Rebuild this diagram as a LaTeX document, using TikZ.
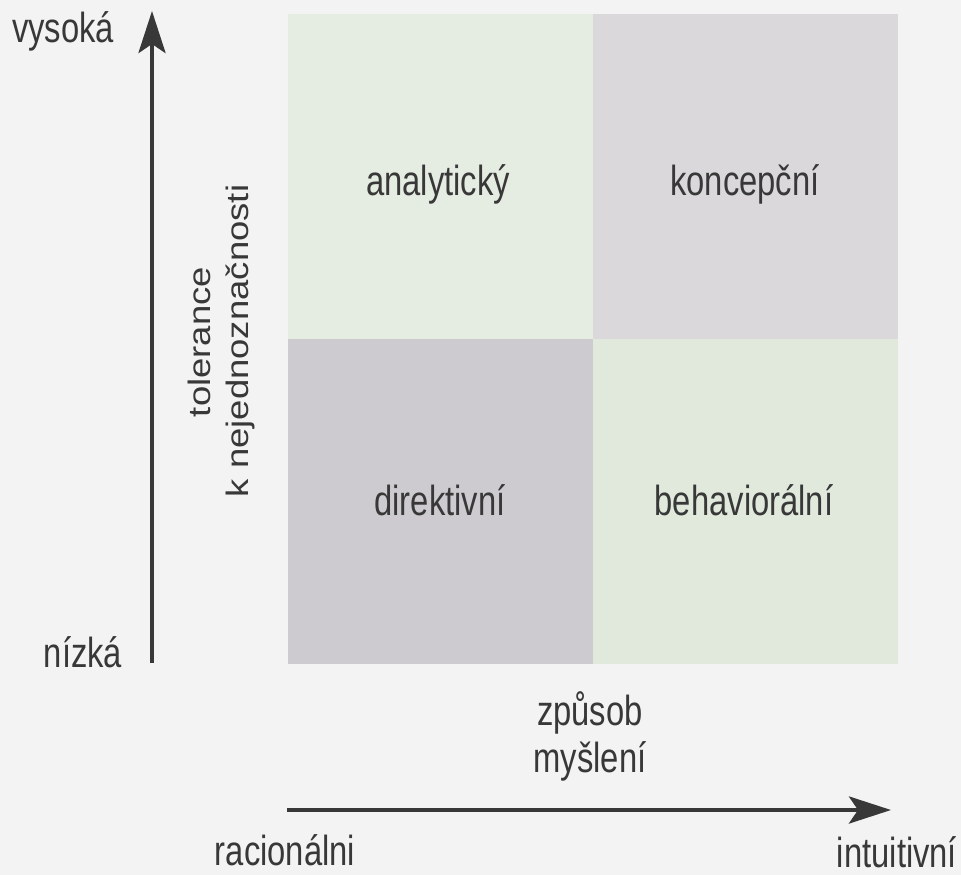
\documentclass[tikz,border=0pt]{standalone}
\usepackage{fontspec}
\setmainfont[FakeStretch=0.78]{Liberation Sans}
\newfontfamily\rotfont{Liberation Sans}
\usetikzlibrary{arrows.meta}
\definecolor{bg}{HTML}{F3F3F3}
\definecolor{greenq}{HTML}{E5ECE1}
\definecolor{greyq}{HTML}{DAD8DB}
\definecolor{greyd}{HTML}{CDCBCF}
\definecolor{greenb}{HTML}{E0E9DC}
\definecolor{txt}{HTML}{383838}
\tikzset{
  lbl/.style={font=\fontsize{42}{48}\selectfont, text=txt, inner sep=0pt, anchor=base},
  rlbl/.style={font=\rotfont\fontsize{36.5}{42}\selectfont, text=txt, inner sep=0pt, anchor=base, rotate=90, yscale=0.85},
  axis/.style={draw=txt, line width=4.5pt, -{Stealth[length=42pt, width=27pt, inset=9pt]}},
  quad/.style={draw=none, inner sep=0pt, minimum width=305pt, minimum height=325pt, anchor=north west}
}
\begin{document}
\begin{tikzpicture}[x=1pt,y=-1pt]
\fill[bg] (0,0) rectangle (961,875);
\useasboundingbox (0,0) rectangle (961,875);
\node[quad, fill=greenq] (q1) at (288,14) {};
\node[quad, fill=greyq] (q2) at (593,14) {};
\node[quad, fill=greyd] (q3) at (288,339) {};
\node[quad, fill=greenb] (q4) at (593,339) {};
\node[lbl] (t1) at (438,195) {analytický};
\node[lbl] (t2) at (745,195) {koncepční};
\node[lbl] (t3) at (440,515) {direktivní};
\node[lbl] (t4) at (744,515) {behaviorální};
\coordinate (ybot) at (152,663);
\coordinate (ytop) at (152,11);
\draw[axis] (ybot) -- (ytop);
\coordinate (xl) at (287,810);
\coordinate (xr) at (891,810);
\draw[axis] (xl) -- (xr);
\node[lbl] (vys) at (63,43) {vysoká};
\node[lbl] (niz) at (83,667) {nízká};
\node[lbl] (rac) at (285,865) {racionálni};
\node[lbl] (int) at (897,867) {intuitivní};
\node[lbl] (zp1) at (590,725) {způsob};
\node[lbl] (zp2) at (590,772) {myšlení};
\node[rlbl] (tol1) at (210,342) {tolerance};
\node[rlbl] (tol2) at (248,341) {k nejednoznačnosti};
\end{tikzpicture}
\end{document}
